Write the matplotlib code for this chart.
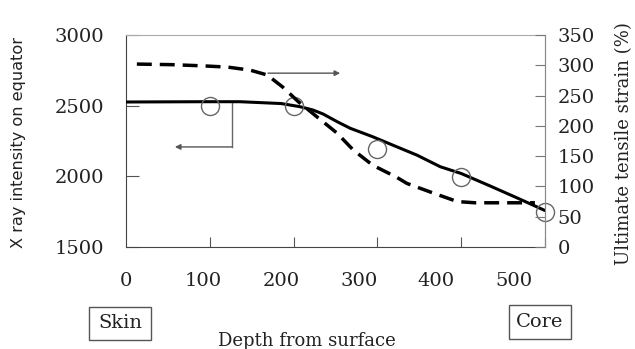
import matplotlib
matplotlib.use("Agg")
import matplotlib.pyplot as plt
from matplotlib.patches import Rectangle

# ---- data ----
circle_depth = [108, 216, 324, 432, 540]
circle_xray = [2500, 2500, 2195, 1995, 1748]

solid_depth = [0, 100, 147, 200, 224, 241, 254, 272, 289, 318, 349, 375, 405, 432, 470, 505, 540]
solid_xray = [2526, 2528, 2528, 2515, 2493, 2469, 2441, 2387, 2340, 2280, 2209, 2150, 2068, 2020, 1930, 1845, 1758]

dash_depth = [14, 60, 100, 131, 160, 182, 202, 222, 246, 272, 293, 318, 349, 362, 396, 427, 450, 490, 527]
dash_strain = [302, 301, 299, 297, 292, 284, 264, 240, 215, 188, 160, 135, 115, 105, 89, 75, 73, 73, 73]

xtick_labels = [0, 100, 200, 300, 400, 500]
xtick_marks = [108, 216, 324, 432, 540]
left_ticks = [1500, 2000, 2500, 3000]
right_ticks = [0, 50, 100, 150, 200, 250, 300, 350]

serif = "DejaVu Serif"
txtc = "#222222"
W, H = 635, 349

fig = plt.figure(figsize=(6.35, 3.49), dpi=100)
ax = fig.add_axes([126/W, 1-247/H, 419/W, 212/H])
ax2 = ax.twinx()

ax.set_xlim(0, 540)
ax.set_ylim(1500, 3000)
ax2.set_ylim(0, 350)

# lines
ax.plot(solid_depth, solid_xray, color="black", lw=2.2, solid_capstyle="round", zorder=3)
ax2.plot(dash_depth, dash_strain, color="black", lw=2.5, dashes=(4.3, 2.3), zorder=3)
ax.plot(circle_depth, circle_xray, linestyle="none", marker="o", ms=13,
        mfc="none", mec="#666666", mew=1.0, zorder=4, clip_on=False)

# spines
for s in ["left", "bottom"]:
    ax.spines[s].set_color("#444444")
for s in ["top", "right"]:
    ax.spines[s].set_color("#aaaaaa")
for s in ax2.spines.values():
    s.set_visible(False)
ax2.spines["right"].set_visible(True)
ax2.spines["right"].set_color("#888888")

# ticks
ax.set_xticks(xtick_marks)
ax.set_xticklabels([])
ax.set_xticks(xtick_labels, minor=True)
ax.set_xticklabels([str(v) for v in xtick_labels], minor=True)
ax.tick_params(axis="x", which="major", direction="in", length=7, color="#555555", pad=0)
ax.tick_params(axis="x", which="minor", length=0, pad=18, labelsize=14, labelcolor=txtc)
ax.set_yticks(left_ticks)
ax.tick_params(axis="y", direction="in", length=9, color="#555555", pad=16, labelsize=14, labelcolor=txtc)
ax2.set_yticks(right_ticks)
ax2.tick_params(axis="y", direction="in", length=7, color="#777777", pad=9, labelsize=14, labelcolor=txtc)
for lbl in ax.get_xticklabels(minor=True) + ax.get_yticklabels() + ax2.get_yticklabels():
    lbl.set_fontfamily(serif)

# axis labels
ax.set_ylabel("X ray intensity on equator", fontsize=11.6, color=txtc, family="DejaVu Sans")
ax.yaxis.set_label_coords(-0.238, 0.495)
ax2.set_ylabel("Ultimate tensile strain (%)", fontsize=13, color=txtc, family=serif)
ax2.yaxis.set_label_coords(1.168, 0.49)

# annotation arrows
ax.plot([136.6, 136.6], [2519, 2208], color="#666666", lw=1.0, zorder=2)
ax.annotate("", xy=(63, 2208), xytext=(136.6, 2208),
            arrowprops=dict(arrowstyle="-|>", color="#555555", lw=1.0, mutation_scale=8,
                            shrinkA=0, shrinkB=0))
ax2.annotate("", xy=(276, 287), xytext=(183, 287),
             arrowprops=dict(arrowstyle="-|>", color="#555555", lw=1.0, mutation_scale=8,
                             shrinkA=0, shrinkB=0))

# bottom texts
fig.text(307/W, 1-341/H, "Depth from surface", ha="center", va="center",
         fontsize=13, family=serif, color=txtc)
for (x0, y0, x1, y1, label) in [(89, 307, 151, 340, "Skin"), (509, 305, 571, 339, "Core")]:
    fig.patches.append(Rectangle((x0/W, 1-y1/H), (x1-x0)/W, (y1-y0)/H,
                                 transform=fig.transFigure, fill=False,
                                 ec="#555555", lw=1.0))
    fig.text((x0+x1)/2/W, 1-(y0+y1)/2/H, label, ha="center", va="center",
             fontsize=14, family=serif, color=txtc)

fig.savefig("out.png", dpi=100)
